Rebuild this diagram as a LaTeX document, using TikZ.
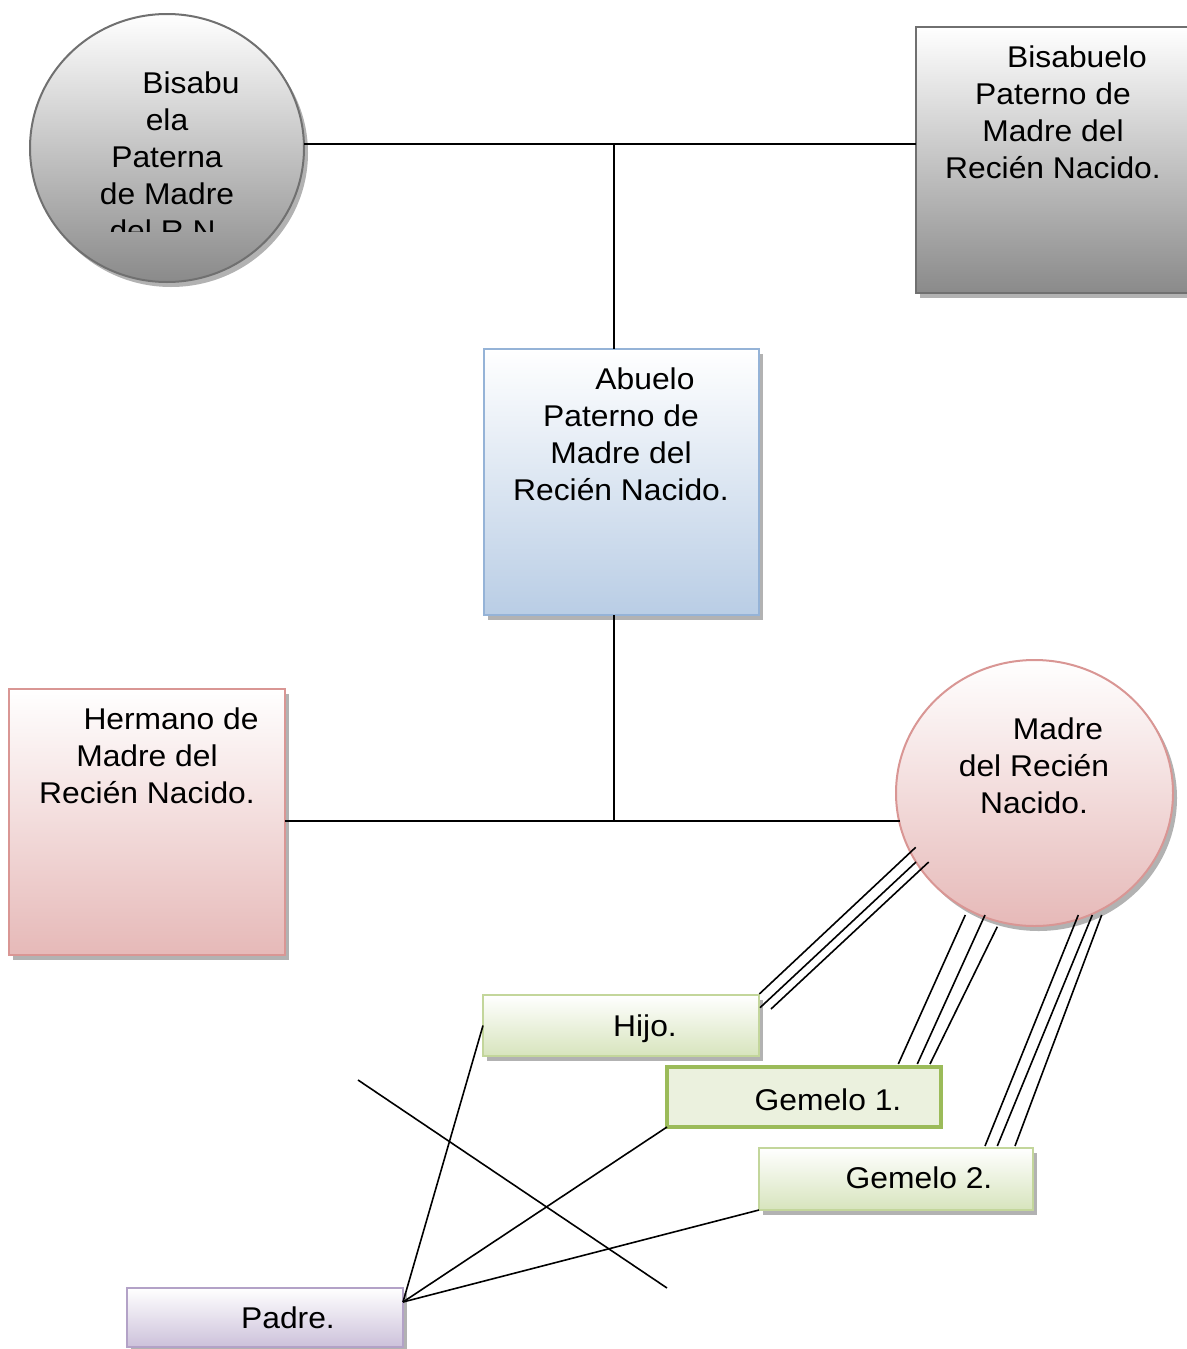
\documentclass[tikz,border=0pt]{standalone}
\usepackage{fontspec}
\setmainfont{Liberation Sans}[FakeStretch=1.06]
\usetikzlibrary{shapes.geometric,shadows,calc}
\definecolor{grayB}{HTML}{8A8A8A}
\definecolor{grayE}{HTML}{707070}
\definecolor{blueB}{HTML}{B9CDE5}
\definecolor{blueE}{HTML}{95B3D7}
\definecolor{pinkB}{HTML}{E6B9B8}
\definecolor{pinkE}{HTML}{D99694}
\definecolor{greenB}{HTML}{D7E4BD}
\definecolor{greenE}{HTML}{C3D69B}
\definecolor{greenF}{HTML}{EBF1DE}
\definecolor{greenT}{HTML}{9BBB59}
\definecolor{lilaB}{HTML}{CCC1DA}
\definecolor{lilaE}{HTML}{B3A2C7}
\tikzset{
  shad/.style={drop shadow={shadow xshift=4pt, shadow yshift=-5pt, fill=black, opacity=0.3}},
  shapebox/.style={rectangle, inner sep=0pt, outer sep=0pt, line width=2pt, shad},
  shapeell/.style={ellipse, inner sep=0pt, outer sep=0pt, line width=2pt, shad},
  txt/.style={font=\fontsize{30}{37}\selectfont, align=center, inner sep=0pt, outer sep=0pt, text=black},
  conn/.style={draw=black, line width=1.6pt},
}
\begin{document}
\begin{tikzpicture}[x=1pt,y=-1pt]
\useasboundingbox (0,0) rectangle (1186,1349);

% shapes
\node[shapeell, draw=grayE, top color=white, bottom color=grayB, minimum width=274pt, minimum height=268pt] (bisabuela) at (167,148) {};
\node[shapebox, draw=grayE, top color=white, bottom color=grayB, minimum width=276pt, minimum height=266pt] (bisabuelo) at (1054,160) {};
\node[shapebox, draw=blueE, top color=white, bottom color=blueB, minimum width=275pt, minimum height=266pt] (abuelo) at (621,482) {};
\node[shapebox, draw=pinkE, top color=white, bottom color=pinkB, minimum width=276pt, minimum height=266pt] (hermano) at (147,822) {};
\node[shapeell, draw=pinkE, top color=white, bottom color=pinkB, minimum width=277pt, minimum height=266pt] (madre) at (1034.5,793) {};
\node[shapebox, draw=greenE, top color=white, bottom color=greenB, minimum width=276pt, minimum height=61pt] (hijo) at (621,1025.5) {};
\node[rectangle, inner sep=0pt, outer sep=0pt, draw=greenT, line width=4.5pt, fill=greenF, minimum width=274pt, minimum height=60pt] (gemelo1) at (804,1097) {};
\node[shapebox, draw=greenE, top color=white, bottom color=greenB, minimum width=274pt, minimum height=62pt] (gemelo2) at (896,1179) {};
\node[shapebox, draw=lilaE, top color=white, bottom color=lilaB, minimum width=276pt, minimum height=59pt] (padre) at (265,1317.5) {};

% texts
\begin{scope}
\clip (0,0) rectangle (1186,231);
\node[txt, anchor=north] (tbisabuela) at (167,72) {\hspace*{48pt}Bisabu\\ela\\Paterna\\de Madre\\del R.N.};
\end{scope}
\node[txt, anchor=north] (tbisabuelo) at (1053,46) {\hspace*{48pt}Bisabuelo\\Paterno de\\Madre del\\Recién Nacido.};
\node[txt, anchor=north] (tabuelo) at (621,368) {\hspace*{48pt}Abuelo\\Paterno de\\Madre del\\Recién Nacido.};
\node[txt, anchor=north] (thermano) at (147,708) {\hspace*{48pt}Hermano de\\Madre del\\Recién Nacido.};
\node[txt, anchor=north] (tmadre) at (1034,718) {\hspace*{48pt}Madre\\del Recién\\Nacido.};
\node[txt, anchor=base] (thijo) at (645,1036) {Hijo.};
\node[txt, anchor=base] (tgemelo1) at (828,1110) {Gemelo 1.};
\node[txt, anchor=base] (tgemelo2) at (919,1188) {Gemelo 2.};
\node[txt, anchor=base] (tpadre) at (288,1328) {Padre.};

% junctions
\coordinate (j1) at (614,144);
\coordinate (j2) at (614,821);
\draw[conn] (j1 -| bisabuela.east) -- (j1 -| bisabuelo.west);
\draw[conn] (j1) -- (j1 |- abuelo.north);
\draw[conn] (j2 |- abuelo.south) -- (j2);
\draw[conn] (j2 -| hermano.east) -- (900,821) coordinate (mw);

% triple lines Hijo - Madre
\coordinate (ha1) at (759.3,994);   \coordinate (hb1) at (915.7,847.3);
\coordinate (ha2) at (760,1007.7);  \coordinate (hb2) at (916,862);
\coordinate (ha3) at (771,1009);    \coordinate (hb3) at (928.7,862);
\draw[conn] (ha1) -- (hb1);
\draw[conn] (ha2) -- (hb2);
\draw[conn] (ha3) -- (hb3);
% triple lines Gemelo1 - Madre
\coordinate (ga1) at (898.3,1064);  \coordinate (gb1) at (965.3,915);
\coordinate (ga2) at (917.3,1064);  \coordinate (gb2) at (985,915);
\coordinate (ga3) at (930,1064);    \coordinate (gb3) at (997.3,926.7);
\draw[conn] (ga1) -- (gb1);
\draw[conn] (ga2) -- (gb2);
\draw[conn] (ga3) -- (gb3);
% triple lines Gemelo2 - Madre
\coordinate (ka1) at (985,1146);    \coordinate (kb1) at (1078.3,915);
\coordinate (ka2) at (997.3,1146);  \coordinate (kb2) at (1092.3,915);
\coordinate (ka3) at (1015,1146);   \coordinate (kb3) at (1101.7,915);
\draw[conn] (ka1) -- (kb1);
\draw[conn] (ka2) -- (kb2);
\draw[conn] (ka3) -- (kb3);

% Padre lines
\coordinate (apex) at ($(padre.north east)+(0,14)$);
\draw[conn] (apex) -- (hijo.west);
\draw[conn] (apex) -- (gemelo1.south west);
\draw[conn] (apex) -- (gemelo2.south west);
% crossing line
\coordinate (xa) at (358,1080);
\coordinate (xb) at (667,1288);
\draw[conn] (xa) -- (xb);
\end{tikzpicture}
\end{document}
